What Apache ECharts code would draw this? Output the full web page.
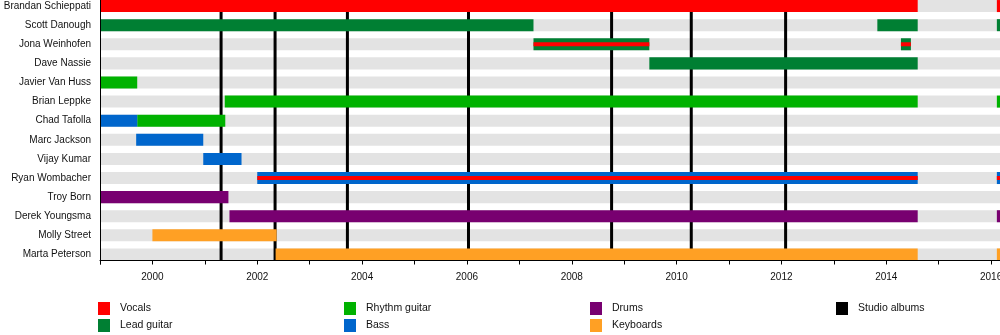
<!DOCTYPE html>
<html>
<head>
<meta charset="utf-8">
<script src="https://cdn.jsdelivr.net/npm/echarts@6/dist/echarts.min.js"></script>
<style>
  html, body { margin: 0; padding: 0; background: #fff; }
  #chart { width: 1000px; height: 335px; }
</style>
</head>
<body>
<div id="chart"></div>
<script>
// Band line-up timeline, 1999 to early 2016
const members = [
  'Brandan Schieppati', 'Scott Danough', 'Jona Weinhofen', 'Dave Nassie',
  'Javier Van Huss', 'Brian Leppke', 'Chad Tafolla', 'Marc Jackson',
  'Vijay Kumar', 'Ryan Wombacher', 'Troy Born', 'Derek Youngsma',
  'Molly Street', 'Marta Peterson'
];

const timelineStart = 1999;
const timelineEnd = 2016.17;

// [member, from, to] in fractional years
const vocals = [
  ['Brandan Schieppati', 1999, 2014.6],
  ['Brandan Schieppati', 2016.11, timelineEnd]
];
// vocals as a second role next to the member's main instrument
const vocalsSecondary = [
  ['Jona Weinhofen', 2007.27, 2009.48],
  ['Jona Weinhofen', 2014.28, 2014.47],
  ['Ryan Wombacher', 2002.0, 2014.6],
  ['Ryan Wombacher', 2016.11, timelineEnd]
];
const leadGuitar = [
  ['Scott Danough', 1999, 2007.27],
  ['Scott Danough', 2013.83, 2014.6],
  ['Scott Danough', 2016.11, timelineEnd],
  ['Jona Weinhofen', 2007.27, 2009.48],
  ['Jona Weinhofen', 2014.28, 2014.47],
  ['Dave Nassie', 2009.48, 2014.6]
];
const rhythmGuitar = [
  ['Javier Van Huss', 1999, 1999.71],
  ['Brian Leppke', 2001.38, 2014.6],
  ['Brian Leppke', 2016.11, timelineEnd],
  ['Chad Tafolla', 1999.71, 2001.39]
];
const bass = [
  ['Chad Tafolla', 1999, 1999.71],
  ['Marc Jackson', 1999.69, 2000.97],
  ['Vijay Kumar', 2000.97, 2001.70],
  ['Ryan Wombacher', 2002.0, 2014.6],
  ['Ryan Wombacher', 2016.11, timelineEnd]
];
const drums = [
  ['Troy Born', 1999, 2001.45],
  ['Derek Youngsma', 2001.47, 2014.6],
  ['Derek Youngsma', 2016.11, timelineEnd]
];
const keyboards = [
  ['Molly Street', 2000.0, 2002.37],
  ['Marta Peterson', 2002.35, 2014.6],
  ['Marta Peterson', 2016.11, timelineEnd]
];
const studioAlbums = [2001.31, 2002.34, 2003.72, 2006.03, 2008.76, 2010.28, 2012.08];

const FONT = '"Liberation Sans", Arial, Helvetica, sans-serif';

function toRows(spans) {
  return spans.map(s => [members.indexOf(s[0]), s[1], s[2]]);
}

// horizontal bar spanning [from, to] on a member's row; ratio = share of the row band
function spanRenderer(ratio) {
  return function (params, api) {
    const row = api.value(0);
    const a = api.coord([api.value(1), row]);
    const b = api.coord([api.value(2), row]);
    const h = api.size([0, 1])[1] * ratio;
    return {
      type: 'rect',
      shape: { x: a[0], y: a[1] - h / 2, width: b[0] - a[0], height: h },
      style: { fill: api.visual('color') }
    };
  };
}

function roleSeries(name, color, spans, ratio, z) {
  return {
    type: 'custom',
    name: name,
    z: z,
    itemStyle: { color: color },
    renderItem: spanRenderer(ratio),
    encode: { x: [1, 2], y: 0 },
    data: toRows(spans)
  };
}

const BAR = 0.63;
const STRIPE = 0.21;

const chart = echarts.init(document.getElementById('chart'), null, { renderer: 'canvas' });

chart.setOption({
  animation: false,
  backgroundColor: '#fff',
  grid: {
    left: 100, right: 0, top: -3.5, bottom: 71,
    containLabel: false,
    outerBoundsMode: 'none'
  },
  xAxis: {
    type: 'value',
    min: timelineStart,
    max: timelineEnd,
    interval: 1,
    offset: -3.5,
    z: 10,
    splitLine: { show: false },
    axisLine: { show: true, onZero: false, lineStyle: { color: '#000', width: 1 } },
    axisTick: { show: true, length: 4, lineStyle: { color: '#000' } },
    axisLabel: {
      margin: 12,
      fontFamily: FONT,
      fontSize: 10,
      color: '#111',
      showMaxLabel: false,
      hideOverlap: false,
      formatter: v => (Number.isInteger(v) && v % 2 === 0) ? String(v) : ''
    }
  },
  yAxis: {
    type: 'category',
    data: members,
    inverse: true,
    z: 10,
    axisLine: { show: true, lineStyle: { color: '#000', width: 1 } },
    axisTick: { show: false },
    axisLabel: { margin: 9, fontFamily: FONT, fontSize: 10, color: '#111' }
  },
  legend: [
    { data: ['Vocals', 'Lead guitar'], left: 98 },
    { data: ['Rhythm guitar', 'Bass'], left: 344 },
    { data: ['Drums', 'Keyboards'], left: 590 },
    { data: ['Studio albums'], left: 836 }
  ].map(l => Object.assign({
    top: 302,
    orient: 'vertical',
    icon: 'rect',
    itemWidth: 12,
    itemHeight: 13,
    itemGap: 4,
    selectedMode: false,
    padding: 0,
    textStyle: { fontFamily: FONT, fontSize: 10.5, color: '#111', padding: [0, 0, 0, 5] }
  }, l)),
  series: [
    // light grey track behind every member row
    {
      type: 'custom',
      name: 'track',
      z: 1,
      silent: true,
      itemStyle: { color: '#e3e3e3' },
      renderItem: spanRenderer(BAR),
      encode: { x: [1, 2], y: 0 },
      data: members.map((m, i) => [i, timelineStart, timelineEnd])
    },
    // studio album release markers
    {
      type: 'custom',
      name: 'Studio albums',
      z: 2,
      itemStyle: { color: '#000' },
      renderItem: function (params, api) {
        const x = api.coord([api.value(0), 0])[0];
        const cs = params.coordSys;
        return {
          type: 'line',
          shape: { x1: x, y1: cs.y + 3.5, x2: x, y2: cs.y + cs.height - 3.5 },
          style: { stroke: '#000', lineWidth: 3 }
        };
      },
      encode: { x: 0, y: 1 },
      data: studioAlbums.map(v => [v, 0])
    },
    roleSeries('Lead guitar', '#007f33', leadGuitar, BAR, 3),
    roleSeries('Rhythm guitar', '#00b200', rhythmGuitar, BAR, 3),
    roleSeries('Bass', '#0066cc', bass, BAR, 3),
    roleSeries('Drums', '#780070', drums, BAR, 3),
    roleSeries('Keyboards', '#ffa024', keyboards, BAR, 3),
    roleSeries('Vocals', '#ff0000', vocals, BAR, 3),
    roleSeries('Vocals', '#ff0000', vocalsSecondary, STRIPE, 4)
  ]
});
</script>
</body>
</html>
